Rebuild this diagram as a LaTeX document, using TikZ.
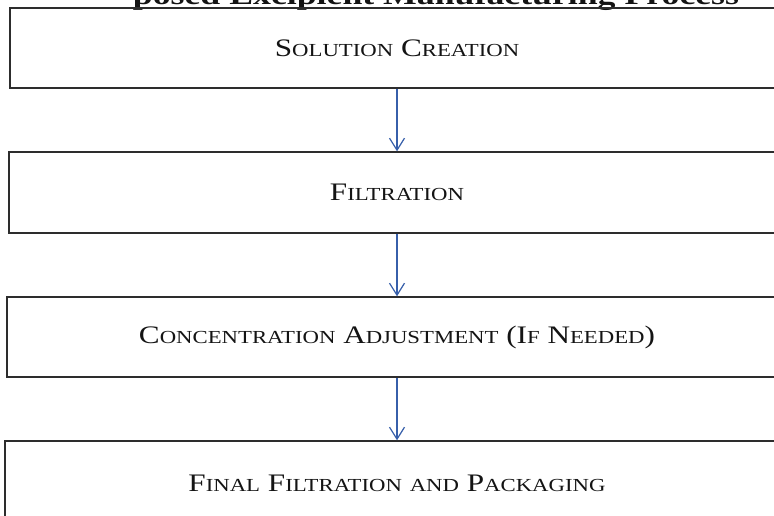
\documentclass[tikz,border=0pt]{standalone}
\usepackage{fontspec}
\setmainfont{Liberation Serif}
\usetikzlibrary{arrows.meta}
\definecolor{arrblue}{RGB}{55,95,170}
\definecolor{boxline}{RGB}{45,45,45}
\definecolor{txt}{RGB}{20,20,20}
\newcommand\bigsz{\fontsize{24}{28}\selectfont}
\newcommand\smsz{\fontsize{17.5}{20}\selectfont}
\newcommand\scw[2]{{\bigsz #1}{\smsz #2}}
\newcommand\wide[1]{\scalebox{1.3}[1.05]{#1}}
\tikzset{
  stepbox/.style={draw=boxline, line width=1.4pt, minimum height=80pt, inner sep=0pt, text=txt, font=\bigsz},
  flowarrow/.style={draw=arrblue, line width=1.2pt, -{Straight Barb[length=12pt,width=15pt,line width=1.2pt]}},
}
\begin{document}
\begin{tikzpicture}[x=1pt,y=-1pt]
\useasboundingbox (0,0) rectangle (774,516);
\clip (0,0) rectangle (774,516);
\fill[white] (0,0) rectangle (774,516);
\node[anchor=base, inner sep=0pt, text=txt, font=\fontsize{27.5}{30}\selectfont\bfseries] (title) at (436,5) {\scalebox{1.3}[1]{posed Excipient Manufacturing Process}};
\node[stepbox, minimum width=774pt] (b1) at (397,48) {\wide{\scw{S}{OLUTION} \scw{C}{REATION}}};
\node[stepbox, minimum width=776pt, minimum height=81pt] (b2) at (397,192.5) {\wide{\scw{F}{ILTRATION}}};
\node[stepbox, minimum width=780pt] (b3) at (397,337) {\wide{\scw{C}{ONCENTRATION} \scw{A}{DJUSTMENT} \scw{(I}{F} \scw{N}{EEDED}{\bigsz )}}};
\node[stepbox, minimum width=784pt, minimum height=84pt] (b4) at (397,483) {\wide{\scw{F}{INAL} \scw{F}{ILTRATION} {\smsz AND} \scw{P}{ACKAGING}}};
\draw[flowarrow] (b1.south) -- (b2.north);
\draw[flowarrow] (b2.south) -- (b3.north);
\draw[flowarrow] (b3.south) -- (b4.north);
\end{tikzpicture}
\end{document}
